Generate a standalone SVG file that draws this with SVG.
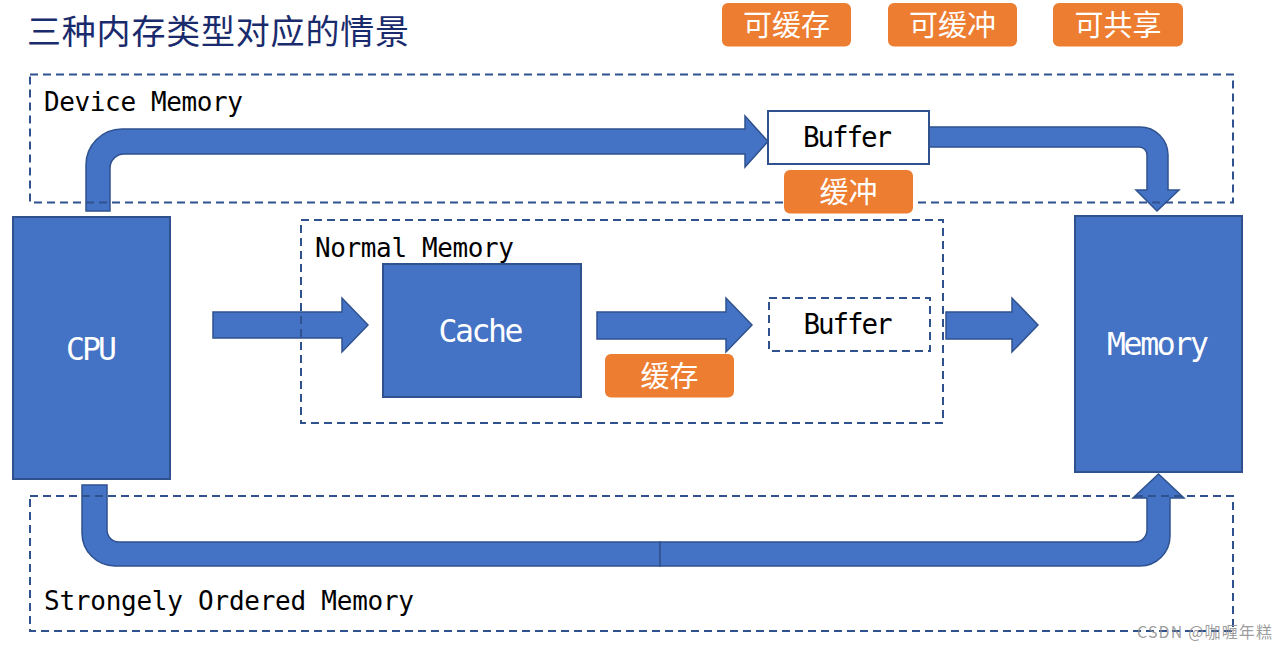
<svg xmlns="http://www.w3.org/2000/svg" width="1288" height="651" viewBox="0 0 1288 651">
<style>
.blk{fill:#4472C4;stroke:#2F528F;stroke-width:2}
.arr{fill:#4472C4;stroke:#2F528F;stroke-width:1.5;stroke-linejoin:miter}
.dash{fill:none;stroke:#2F528F;stroke-width:2;stroke-dasharray:8 5}
.badge{fill:#ED7D31}
.cn{font-family:"Noto Sans CJK SC","Noto Sans",sans-serif;fill:#FFFFFF;font-size:29px;text-anchor:middle}
.mono{font-family:"DejaVu Sans Mono","Liberation Mono",monospace}
.lbl{font-size:26px;fill:#000000}
.wt{font-size:31.5px;fill:#FFFFFF}
.buf{font-size:27.5px;fill:#000000}
</style>
<rect width="1288" height="651" fill="#FFFFFF"/>
<text x="27" y="44" font-family="'Noto Sans CJK SC',sans-serif" font-size="34" fill="#1A2B6D" textLength="382">三种内存类型对应的情景</text>

<g id="connectors">
<path class="arr" d="M86,211 L86,165 A36,36 0 0 1 122,129 L745,129 L745,116 L768,141.5 L745,167 L745,154 L124,154 A14,14 0 0 0 110,168 L110,211 Z"/>
<path class="arr" d="M929,127 L1140,127 A28,28 0 0 1 1168,155 L1168,190 L1179,190 L1157,211 L1136,190 L1147,190 L1147,155 A8,8 0 0 0 1139,147 L929,147 Z"/>
<path class="arr" d="M213,312 L342,312 L342,298 L368,325 L342,352 L342,338 L213,338 Z"/>
<path class="arr" d="M597,312 L726,312 L726,298 L752,325 L726,352 L726,339 L597,339 Z"/>
<path class="arr" d="M946,312 L1012,312 L1012,298 L1038,325 L1012,352 L1012,339 L946,339 Z"/>
<path class="arr" d="M82,485 L82,533 A33,33 0 0 0 115,566 L660,566 L660,542 L119,542 A12,12 0 0 1 107,530 L107,485 Z"/>
<path class="arr" d="M660,542 L660,566 L1140,566 A30,30 0 0 0 1170,536 L1170,498 L1184,498 L1158.5,474 L1133,498 L1147,498 L1147,530 A12,12 0 0 1 1135,542 Z"/>
</g>

<g id="device-memory">
<rect class="dash" x="30" y="74.5" width="1203" height="128"/>
<text class="mono lbl" x="44" y="110.5" textLength="199">Device Memory</text>
</g>
<g id="normal-memory">
<rect class="dash" x="301" y="220" width="642" height="203"/>
<text class="mono lbl" x="315" y="257" textLength="199">Normal Memory</text>
</g>
<g id="strongly-ordered-memory">
<rect class="dash" x="30" y="496" width="1203" height="135"/>
<text class="mono lbl" x="44" y="610" textLength="370">Strongely Ordered Memory</text>
</g>

<g id="cpu">
<rect class="blk" x="13" y="217" width="157" height="262"/>
<text class="mono wt" x="66" y="360" textLength="51">CPU</text>
</g>
<g id="memory">
<rect class="blk" x="1075" y="216" width="167" height="256"/>
<text class="mono wt" x="1107" y="355" textLength="102">Memory</text>
</g>
<g id="cache">
<rect class="blk" x="383" y="264" width="198" height="133"/>
<text class="mono wt" x="438.5" y="341.5" textLength="85">Cache</text>
</g>
<g id="buffer-device">
<rect x="768" y="111" width="161" height="53" fill="#FFFFFF" stroke="#2F528F" stroke-width="2"/>
<text class="mono buf" x="803" y="146.5" textLength="89">Buffer</text>
</g>
<g id="buffer-normal">
<rect class="dash" x="769" y="298" width="161" height="53" style="fill:#FFFFFF"/>
<text class="mono buf" x="803.5" y="333.5" textLength="89">Buffer</text>
</g>

<g id="badge-buffer">
<rect class="badge" x="784" y="170" width="129" height="43.5" rx="6"/>
<text class="cn" x="848.5" y="202.5">缓冲</text>
</g>
<g id="badge-cache">
<rect class="badge" x="605" y="354" width="129" height="43.5" rx="6"/>
<text class="cn" x="669.5" y="386.5">缓存</text>
</g>
<g id="badge-cacheable">
<rect class="badge" x="722" y="3" width="129" height="43.5" rx="6"/>
<text class="cn" x="786.5" y="35.5">可缓存</text>
</g>
<g id="badge-bufferable">
<rect class="badge" x="888" y="3" width="129" height="43.5" rx="6"/>
<text class="cn" x="952.5" y="35.5">可缓冲</text>
</g>
<g id="badge-shareable">
<rect class="badge" x="1053" y="3" width="130" height="43.5" rx="6"/>
<text class="cn" x="1118" y="35.5">可共享</text>
</g>

<text x="1137" y="638" font-family="'Noto Sans CJK SC',sans-serif" font-size="16" fill="#8C8C8C" fill-opacity="0.85" textLength="135">CSDN @咖喱年糕</text>
</svg>
